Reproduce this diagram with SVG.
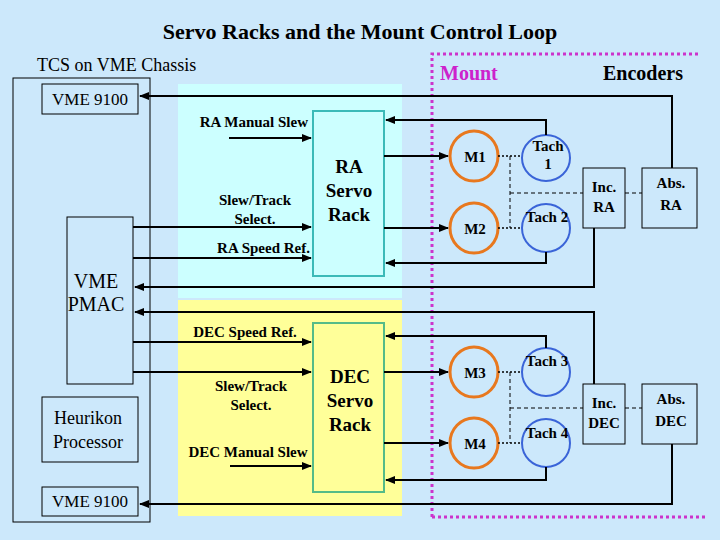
<svg xmlns="http://www.w3.org/2000/svg" width="720" height="540" viewBox="0 0 720 540">
<defs>
<marker id="a" viewBox="0 0 10 10" refX="9" refY="5" markerWidth="5" markerHeight="5" orient="auto"><path d="M0,1 L10,5 L0,9 z" fill="#000"/></marker>
<style>
text{font-family:Liberation Serif, DejaVu Serif, serif}
.b{font-weight:bold;font-size:15px}
.box{fill:none;stroke:#000;stroke-width:1}
.ar{fill:none;stroke:#000;stroke-width:2;marker-end:url(#a)}
.mot{fill:none;stroke:#e8781e;stroke-width:3}
.tach{fill:none;stroke:#3a64d8;stroke-width:2}
.dot{stroke:#000;stroke-width:1.5;stroke-dasharray:2,2}
.dash{stroke:#000;stroke-width:1;stroke-dasharray:4,3}
.mag{stroke:#cc33cc;stroke-width:3;stroke-dasharray:3,3;fill:none}
</style>
</defs>
<rect width="720" height="540" fill="#cce8fb"/>
<rect x="178" y="84" width="224" height="214" fill="#ccffff"/>
<rect x="178" y="300" width="224" height="216" fill="#ffff99"/>
<text x="360" y="39" text-anchor="middle" font-size="22" font-weight="bold">Servo Racks and the Mount Control Loop</text>
<text x="37" y="71" font-size="18">TCS on VME Chassis</text>
<text x="440" y="80" font-size="20" font-weight="bold" fill="#cc22cc">Mount</text>
<text x="643" y="80" font-size="20" font-weight="bold" text-anchor="middle">Encoders</text>
<path class="mag" d="M432,517 V54 H700 M432,517 H706"/>
<g id="chassis"><rect class="box" x="13" y="78" width="137" height="444"/></g>
<g id="vme9100a"><rect class="box" x="42" y="84" width="96" height="30"/><text x="90" y="105" font-size="17" text-anchor="middle">VME 9100</text></g>
<g id="pmac"><rect class="box" x="67" y="217" width="66" height="167"/><text x="96" y="288" font-size="20" text-anchor="middle">VME</text><text x="96" y="311" font-size="20" text-anchor="middle">PMAC</text></g>
<g id="heurikon"><rect class="box" x="42" y="397" width="96" height="65"/><text x="88" y="424" font-size="18" text-anchor="middle">Heurikon</text><text x="88" y="448" font-size="18" text-anchor="middle">Processor</text></g>
<g id="vme9100b"><rect class="box" x="42" y="487" width="96" height="29"/><text x="90" y="507" font-size="17" text-anchor="middle">VME 9100</text></g>
<g id="rarack"><rect x="313" y="111" width="71" height="165" fill="#ccffff" stroke="#3bbab8" stroke-width="2"/><text class="b" x="349" y="173" text-anchor="middle" style="font-size:19px">RA</text><text class="b" x="349" y="197" text-anchor="middle" style="font-size:19px">Servo</text><text class="b" x="349" y="221" text-anchor="middle" style="font-size:19px">Rack</text></g>
<g id="decrack"><rect x="313" y="323" width="71" height="169" fill="#ffff99" stroke="#55bb88" stroke-width="2"/><text class="b" x="350" y="383" text-anchor="middle" style="font-size:19px">DEC</text><text class="b" x="350" y="407" text-anchor="middle" style="font-size:19px">Servo</text><text class="b" x="350" y="431" text-anchor="middle" style="font-size:19px">Rack</text></g>
<g id="m1"><ellipse class="mot" cx="474" cy="156" rx="24" ry="25"/><text class="b" x="475" y="162" text-anchor="middle">M1</text></g>
<g id="m2"><ellipse class="mot" cx="474" cy="228" rx="24" ry="25"/><text class="b" x="475" y="234" text-anchor="middle">M2</text></g>
<g id="m3"><ellipse class="mot" cx="474" cy="372" rx="24" ry="25"/><text class="b" x="475" y="378" text-anchor="middle">M3</text></g>
<g id="m4"><ellipse class="mot" cx="474" cy="443" rx="24" ry="25"/><text class="b" x="475" y="449" text-anchor="middle">M4</text></g>
<g id="t1"><ellipse class="tach" cx="546" cy="158" rx="24" ry="23"/><text class="b" x="548" y="151" text-anchor="middle">Tach</text><text class="b" x="548" y="169" text-anchor="middle">1</text></g>
<g id="t2"><ellipse class="tach" cx="546" cy="228" rx="24" ry="24"/><text class="b" x="547" y="222" text-anchor="middle">Tach 2</text></g>
<g id="t3"><ellipse class="tach" cx="546" cy="372" rx="24" ry="24"/><text class="b" x="547" y="366" text-anchor="middle">Tach 3</text></g>
<g id="t4"><ellipse class="tach" cx="546" cy="443" rx="24" ry="24"/><text class="b" x="547" y="438" text-anchor="middle">Tach 4</text></g>
<g id="incra"><rect class="box" x="583" y="168" width="42" height="60"/><text class="b" x="604" y="192" text-anchor="middle">Inc.</text><text class="b" x="604" y="212" text-anchor="middle">RA</text></g>
<g id="absra"><rect class="box" x="642" y="168" width="55" height="60"/><text class="b" x="671" y="188" text-anchor="middle">Abs.</text><text class="b" x="671" y="210" text-anchor="middle">RA</text></g>
<g id="incdec"><rect class="box" x="583" y="384" width="42" height="60"/><text class="b" x="604" y="408" text-anchor="middle">Inc.</text><text class="b" x="604" y="428" text-anchor="middle">DEC</text></g>
<g id="absdec"><rect class="box" x="642" y="384" width="55" height="60"/><text class="b" x="671" y="404" text-anchor="middle">Abs.</text><text class="b" x="671" y="426" text-anchor="middle">DEC</text></g>
<g id="labels">
<text class="b" x="308" y="127" text-anchor="end">RA Manual Slew</text>
<text class="b" x="255" y="205" text-anchor="middle">Slew/Track</text>
<text class="b" x="255" y="224" text-anchor="middle">Select.</text>
<text class="b" x="310" y="253" text-anchor="end">RA Speed Ref.</text>
<text class="b" x="245" y="337" text-anchor="middle">DEC Speed Ref.</text>
<text class="b" x="251" y="391" text-anchor="middle">Slew/Track</text>
<text class="b" x="251" y="410" text-anchor="middle">Select.</text>
<text class="b" x="248" y="457" text-anchor="middle">DEC Manual Slew</text>
</g>
<g id="connectors">
<path class="ar" d="M672,168 V96 H140"/>
<path class="ar" d="M546,135 V120 H386"/>
<path class="ar" d="M229,138 H311"/>
<path class="ar" d="M133,227 H311"/>
<path class="ar" d="M133,258 H311"/>
<path class="ar" d="M384,156 H448"/>
<path class="ar" d="M384,228 H448"/>
<path class="ar" d="M546,252 V263 H386"/>
<path class="ar" d="M594,228 V287 H135"/>
<path class="ar" d="M594,384 V312 H135"/>
<path class="ar" d="M133,342 H311"/>
<path class="ar" d="M133,372 H311"/>
<path class="ar" d="M230,466 H311"/>
<path class="ar" d="M384,372 H448"/>
<path class="ar" d="M384,443 H448"/>
<path class="ar" d="M546,348 V336 H386"/>
<path class="ar" d="M546,467 V480 H386"/>
<path class="ar" d="M672,444 V504 H140"/>
<path class="dot" d="M498,156 H522 M498,228 H522 M498,372 H522 M498,443 H522"/>
<path class="dash" d="M510,156 V228 M510,193 H583 M625,193 H642 M510,372 V443 M510,408 H583 M625,408 H642"/>
</g>
</svg>
